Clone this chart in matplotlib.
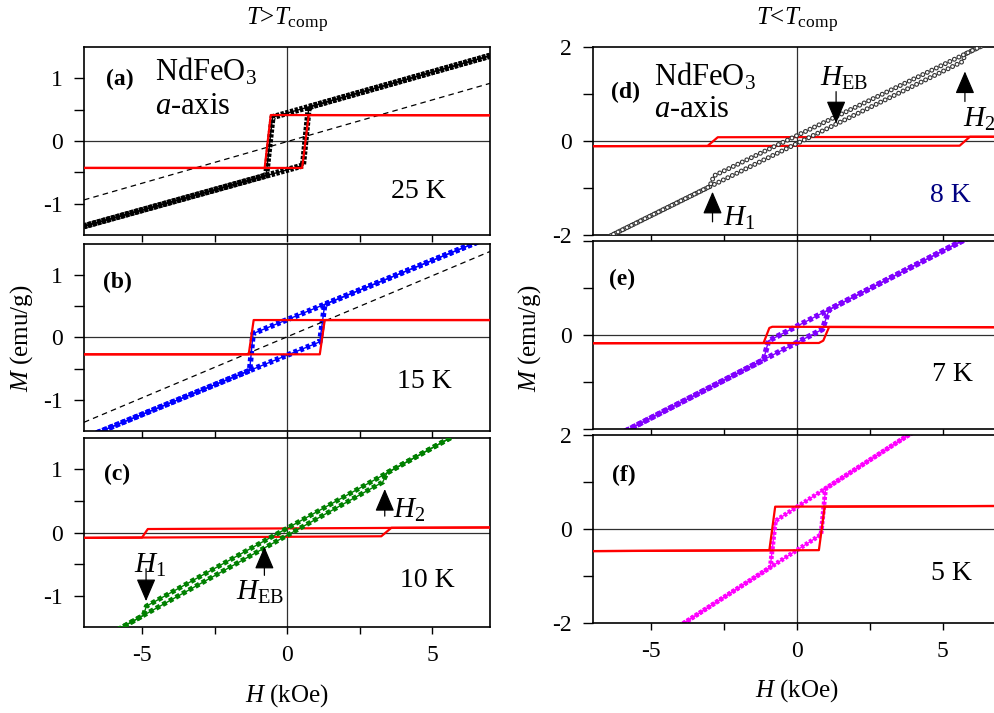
import matplotlib.pyplot as plt

plt.rcParams['font.family'] = ['Liberation Serif', 'DejaVu Serif']
plt.rcParams['mathtext.fontset'] = 'custom'
plt.rcParams['mathtext.rm'] = 'Liberation Serif'
plt.rcParams['mathtext.it'] = 'Liberation Serif:italic'
plt.rcParams['mathtext.bf'] = 'Liberation Serif:bold'
plt.rcParams['lines.scale_dashes'] = False

# M(H) loops; H in kOe, M in emu/g
# "up" = field swept -7 -> +7, "dn" = field swept +7 -> -7
H_a_up = [-7, 0.55, 0.75, 7]
M_a_up = [-1.36, -0.39, 0.54, 1.36]
H_a_dn = [7, -0.5, -0.72, -7]
M_a_dn = [1.36, 0.38, -0.55, -1.36]
H_a_red_up = [-7, 0.52, 0.75, 7]
M_a_red_up = [-0.43, -0.43, 0.414, 0.41]
H_a_red_dn = [7, -0.56, -0.77, -7]
M_a_red_dn = [0.41, 0.414, -0.43, -0.43]
H_a_lin = [-7, 7]
M_a_lin = [-0.94, 0.92]

H_b_up = [-7, 1.13, 1.30, 7]
M_b_up = [-1.615, -0.07, 0.53, 1.615]
H_b_dn = [7, -1.17, -1.29, -7]
M_b_dn = [1.615, 0.063, -0.53, -1.615]
H_b_red_up = [-7, 1.13, 1.30, 7]
M_b_red_up = [-0.27, -0.27, 0.28, 0.28]
H_b_red_dn = [7, -1.15, -1.32, -7]
M_b_red_dn = [0.28, 0.28, -0.27, -0.27]
H_b_lin = [-7, 7]
M_b_lin = [-1.36, 1.38]

H_c_up = [-7, 3.3, 3.45, 7]
M_c_up = [-1.84, 0.80, 0.95, 1.85]
H_c_dn = [7, -4.85, -4.95, -7]
M_c_dn = [1.85, -1.17, -1.315, -1.84]
H_c_red_up = [-7, 3.25, 3.6, 7]
M_c_red_up = [-0.085, -0.06, 0.075, 0.08]
H_c_red_dn = [7, -4.8, -5.0, -7]
M_c_red_dn = [0.08, 0.055, -0.08, -0.085]

H_d_up = [-7, 5.65, 5.8, 7]
M_d_up = [-2.2, 1.68, 1.86, 2.22]
H_d_dn = [7, -2.85, -3.0, -7]
M_d_dn = [2.22, -0.74, -0.97, -2.2]
H_d_red_up = [-7, 5.58, 5.93, 7]
M_d_red_up = [-0.11, -0.1, 0.09, 0.09]
H_d_red_dn = [7, -2.72, -3.07, -7]
M_d_red_dn = [0.09, 0.08, -0.105, -0.11]

H_e_up = [-7, 0.87, 1.1, 7]
M_e_up = [-2.40, 0.12, 0.54, 2.43]
H_e_dn = [7, -0.98, -1.15, -7]
M_e_dn = [2.43, -0.125, -0.53, -2.40]
H_e_red_up = [-7, 0.75, 0.9, 1.1, 7]
M_e_red_up = [-0.175, -0.17, -0.12, 0.17, 0.165]
H_e_red_dn = [7, -0.85, -0.95, -1.15, -7]
M_e_red_dn = [0.165, 0.175, 0.15, -0.17, -0.175]

H_f_up = [-7, 0.82, 0.98, 7]
M_f_up = [-3.25, -0.12, 0.86, 3.27]
H_f_dn = [7, -0.74, -0.92, -7]
M_f_dn = [3.27, 0.174, -0.818, -3.25]
H_f_red_up = [-7, 0.75, 0.95, 7]
M_f_red_up = [-0.47, -0.45, 0.475, 0.49]
H_f_red_dn = [7, -0.75, -0.95, -7]
M_f_red_dn = [0.49, 0.475, -0.45, -0.47]

panel_tags = ['(a)', '(b)', '(c)', '(d)', '(e)', '(f)']
temps = ['25 K', '15 K', '10 K', '8 K', '7 K', '5 K']
colors = ['black', '#0000ff', '#008000', '#333333', '#8000ff', '#ff00ff']

fig = plt.figure(figsize=(9.94, 7.13), dpi=100)

# axes rectangles in figure fractions
boxes = [
    [0.0845, 0.6704, 0.4085, 0.2637],
    [0.0845, 0.3955, 0.4085, 0.2623],
    [0.0845, 0.1206, 0.4085, 0.2651],
    [0.5966, 0.6704, 0.4105, 0.2637],
    [0.5966, 0.3983, 0.4105, 0.2637],
    [0.5966, 0.1262, 0.4105, 0.2637],
]
axs = [fig.add_axes(b) for b in boxes]

loops = [
    (H_a_up, M_a_up, H_a_dn, M_a_dn, H_a_red_up, M_a_red_up, H_a_red_dn, M_a_red_dn),
    (H_b_up, M_b_up, H_b_dn, M_b_dn, H_b_red_up, M_b_red_up, H_b_red_dn, M_b_red_dn),
    (H_c_up, M_c_up, H_c_dn, M_c_dn, H_c_red_up, M_c_red_up, H_c_red_dn, M_c_red_dn),
    (H_d_up, M_d_up, H_d_dn, M_d_dn, H_d_red_up, M_d_red_up, H_d_red_dn, M_d_red_dn),
    (H_e_up, M_e_up, H_e_dn, M_e_dn, H_e_red_up, M_e_red_up, H_e_red_dn, M_e_red_dn),
    (H_f_up, M_f_up, H_f_dn, M_f_dn, H_f_red_up, M_f_red_up, H_f_red_dn, M_f_red_dn),
]
# band width and dash pattern (points) that stand in for the dense markers
band = [(4.4, (2.4, 1.1)), (4.0, (2.8, 2.0)), (3.6, (3.2, 2.2)),
        (3.6, (0.01, 3.6)), (4.0, (3.2, 1.9)), (3.4, (2.2, 1.3))]
red_top = [True, True, False, False, True, True]

for i, ax in enumerate(axs):
    hu, mu, hd, md, hru, mru, hrd, mrd = loops[i]
    ax.axhline(0, color='#303030', lw=0.9, zorder=1)
    ax.axvline(0, color='#303030', lw=0.9, zorder=1)
    zs = 2 if red_top[i] else 4
    lw, dash = band[i]
    for h, m in [(hu, mu), (hd, md)]:
        if i == 3:
            # open circles: dark dots with white centres
            ax.plot(h, m, color=colors[i], lw=lw, dashes=dash, dash_capstyle='round', zorder=zs)
            ax.plot(h, m, color='white', lw=lw - 1.6, dashes=dash, dash_capstyle='round', zorder=zs)
        else:
            ax.plot(h, m, color=colors[i], lw=1.0, zorder=zs)
            ax.plot(h, m, color=colors[i], lw=lw, dashes=dash, zorder=zs)
    ax.plot(hru, mru, color='#ff0000', lw=1.6, zorder=3)
    ax.plot(hrd, mrd, color='#ff0000', lw=1.6, zorder=3)

    ax.set_xlim(-7, 7)
    ax.set_xticks([-5, -2.5, 0, 2.5, 5])
    if i in (2, 5):
        ax.set_xticklabels(['-5', '', '0', '', '5'])
    else:
        ax.set_xticklabels([])
    if i < 3:
        ax.set_ylim(-1.5, 1.5)
        ax.set_yticks([-1, -0.5, 0, 0.5, 1])
        ax.set_yticklabels(['-1', '', '0', '', '1'])
    else:
        ax.set_ylim(-2, 2)
        ax.set_yticks([-2, -1, 0, 1, 2])
        if i == 4:
            ax.set_yticklabels(['', '', '0', '', ''])
        else:
            ax.set_yticklabels(['-2', '', '0', '', '2'])
    ax.tick_params(axis='y', direction='out', length=7, width=1, labelsize=17, pad=8)
    ax.tick_params(axis='x', direction='out', length=5, width=1, labelsize=17, pad=8)
    for s in ax.spines.values():
        s.set_linewidth(1.2)

# dashed reference lines in (a) and (b)
axs[0].plot(H_a_lin, M_a_lin, color='black', lw=0.9, dashes=(4, 3), zorder=2)
axs[1].plot(H_b_lin, M_b_lin, color='black', lw=0.9, dashes=(4, 3), zorder=2)

# panel tags and temperatures
tag_pos = [(-5.76, 0.98), (-5.83, 0.89), (-5.86, 0.92), (-5.88, 1.04), (-5.99, 1.19), (-5.95, 1.15)]
temp_pos = [(4.52, -0.81), (4.72, -0.71), (4.83, -0.76), (5.26, -1.17), (5.33, -0.85), (5.29, -0.94)]
for i, ax in enumerate(axs):
    ax.text(tag_pos[i][0], tag_pos[i][1], panel_tags[i], fontsize=17, fontweight='bold',
            ha='center', va='center')
    ax.text(temp_pos[i][0], temp_pos[i][1], temps[i], fontsize=20, ha='center', va='center',
            color='#000080' if i == 3 else 'black')

for ax, x0, y1, y2 in [(axs[0], -4.55, 1.11, 0.55), (axs[3], -4.91, 1.36, 0.66)]:
    ax.text(x0, y1, 'NdFeO$_3$', fontsize=22, ha='left', va='center')
    ax.text(x0, y2, '$a$-axis', fontsize=22, ha='left', va='center')


def arrow(ax, x, y_tail, y_tip):
    ax.annotate('', xy=(x, y_tip), xytext=(x, y_tail),
                arrowprops=dict(arrowstyle='-|>,head_length=0.7,head_width=0.3',
                                color='black', lw=0.9, shrinkA=0, shrinkB=0,
                                mutation_scale=20), zorder=6)


arrow(axs[2], -4.86, -0.575, -1.09)
arrow(axs[2], -0.78, -0.68, -0.226)
arrow(axs[2], 3.37, 0.26, 0.69)
axs[2].text(-4.72, -0.53, '$H_1$', fontsize=21, ha='center', va='center')
axs[2].text(-0.93, -0.95, '$H_{\\rm EB}$', fontsize=21, ha='center', va='center')
axs[2].text(4.2, 0.355, '$H_2$', fontsize=21, ha='center', va='center')

arrow(axs[3], 1.34, 1.05, 0.376)
arrow(axs[3], -2.9, -1.72, -1.08)
arrow(axs[3], 5.76, 0.84, 1.48)
axs[3].text(1.6, 1.33, '$H_{\\rm EB}$', fontsize=21, ha='center', va='center')
axs[3].text(-2.0, -1.65, '$H_1$', fontsize=21, ha='center', va='center')
axs[3].text(6.24, 0.46, '$H_2$', fontsize=21, ha='center', va='center')

# column titles and axis labels
fig.text(0.289, 0.965, '$T$>$T_{\\rm comp}$', fontsize=18, ha='center', va='baseline')
fig.text(0.802, 0.965, '$T$<$T_{\\rm comp}$', fontsize=18, ha='center', va='baseline')
fig.text(0.022, 0.526, '$M$ (emu/g)', fontsize=18, rotation=90, ha='center', va='center')
fig.text(0.533, 0.526, '$M$ (emu/g)', fontsize=18, rotation=90, ha='center', va='center')
fig.text(0.289, 0.025, '$H$ (kOe)', fontsize=18, ha='center', va='center')
fig.text(0.802, 0.032, '$H$ (kOe)', fontsize=18, ha='center', va='center')

fig.savefig('out.png', dpi=100)
